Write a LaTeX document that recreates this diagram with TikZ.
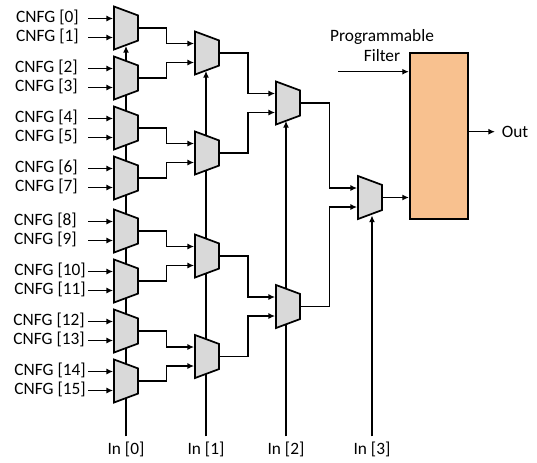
\documentclass[tikz,border=0pt]{standalone}
\usepackage{fontspec}
\setmainfont{Carlito}
\usetikzlibrary{arrows.meta,shapes.geometric,calc,backgrounds}
\definecolor{muxGray}{RGB}{217,217,217}
\definecolor{filterOrange}{RGB}{248,193,143}
\tikzset{
    wire/.style={line width=1.15pt},
    sig/.style={wire, -{Latex[length=5pt,width=4.5pt]}},
    mux/.style={trapezium, trapezium angle=70.5, trapezium stretches=true, shape border rotate=270, draw, line width=1.3pt,
        fill=muxGray, inner sep=0.5pt, minimum width=43*0.75pt, minimum height=24*0.75pt},
    block/.style={rectangle, draw=black, line width=1.6pt, fill=filterOrange, inner sep=0pt},
    lab/.style={font=\fontsize{13}{15.6}\selectfont, inner sep=0pt},
}
\begin{document}
\begin{tikzpicture}[x=0.75pt, y=-0.75pt]
% Constants
\def\portShift{9.5} % Half the distance between two mux inputs

\useasboundingbox (0,0) rectangle (537,462);

% Draw the muxes, every one with its two input points
\foreach \name/\x/\y in {0-0/126/28, 0-1/126/78, 0-2/126/128, 0-3/126/178,
                         0-4/126/231, 0-5/126/281, 0-6/126/331, 0-7/126/381,
                         1-0/207/53, 1-1/207/153, 1-2/207/256, 1-3/207/356.5,
                         2-0/288/103, 2-1/288/306.5,
                         3-0/370/197.5} {
    \node[mux] (mux-\name) at (\x, \y) {};
    \coordinate (mux-\name-a) at ($(mux-\name.bottom side)+(0,-\portShift)$);
    \coordinate (mux-\name-b) at ($(mux-\name.bottom side)+(0,\portShift)$);
}

% Filter block
\node[block, minimum width=58*0.75pt, minimum height=166*0.75pt] (filter) at (439, 136) {};

% CNFG labels with their arrows
\coordinate (cnfg-start) at (88, 0);
\foreach \i/\m/\p/\xEnd in {0/0/a/79, 1/0/b/79, 2/1/a/78, 3/1/b/78, 4/2/a/78, 5/2/b/78, 6/3/a/78, 7/3/b/78,
                            8/4/a/77, 9/4/b/77, 10/5/a/86, 11/5/b/86, 12/6/a/85, 13/6/b/85, 14/7/a/86, 15/7/b/86} {
    \coordinate (cnfg-end-\i) at (\xEnd, 0);
    \node[lab, anchor=east] (cnfg-\i) at ($(cnfg-end-\i |- mux-0-\m-\p)+(0,-1)$) {CNFG [\i]};
    \draw[sig] (cnfg-start |- mux-0-\m-\p) -- (mux-0-\m-\p);
}

% Elbows between the columns
\coordinate (elbow-0) at (166.7, 0);
\coordinate (elbow-1) at (248, 0);
\coordinate (elbow-2) at (329.5, 0);

% Connect every mux output to the next column
\foreach \col/\from/\to/\p in {0/0-0/1-0/a, 0/0-1/1-0/b, 0/0-2/1-1/a, 0/0-3/1-1/b,
                               0/0-4/1-2/a, 0/0-5/1-2/b, 0/0-6/1-3/a, 0/0-7/1-3/b,
                               1/1-0/2-0/a, 1/1-1/2-0/b, 1/1-2/2-1/a, 1/1-3/2-1/b,
                               2/2-0/3-0/a, 2/2-1/3-0/b} {
    \draw[sig] (mux-\from.top side) -- (mux-\from.top side -| elbow-\col) -- (elbow-\col |- mux-\to-\p) -- (mux-\to-\p);
}

% Select inputs, they run behind the muxes
\foreach \i/\x/\target in {0/126/0-0, 1/206/1-0, 2/286/2-0, 3/372/3-0} {
    \node[lab, inner sep=4pt] (in-\i) at (\x, 449.5) {In [\i]};
    \begin{scope}[on background layer]
        \draw[sig] (in-\i.north) -- (in-\i.north |- mux-\target.right side);
    \end{scope}
}

% Filter input and output
\node[lab, align=center] (filter-label) at (382, 45.5) {Programmable\\Filter};
\coordinate (filter-in) at (338, 71.7);
\draw[sig] (filter-in) -- (filter-in -| filter.west);
\draw[sig] (mux-3-0.top side) -- (mux-3-0.top side -| filter.west);
\node[lab] (out) at (515, 131.7) {Out};
\coordinate (out-end) at (495, 131.7);
\draw[sig] (out-end -| filter.east) -- (out-end);

\end{tikzpicture}
\end{document}
